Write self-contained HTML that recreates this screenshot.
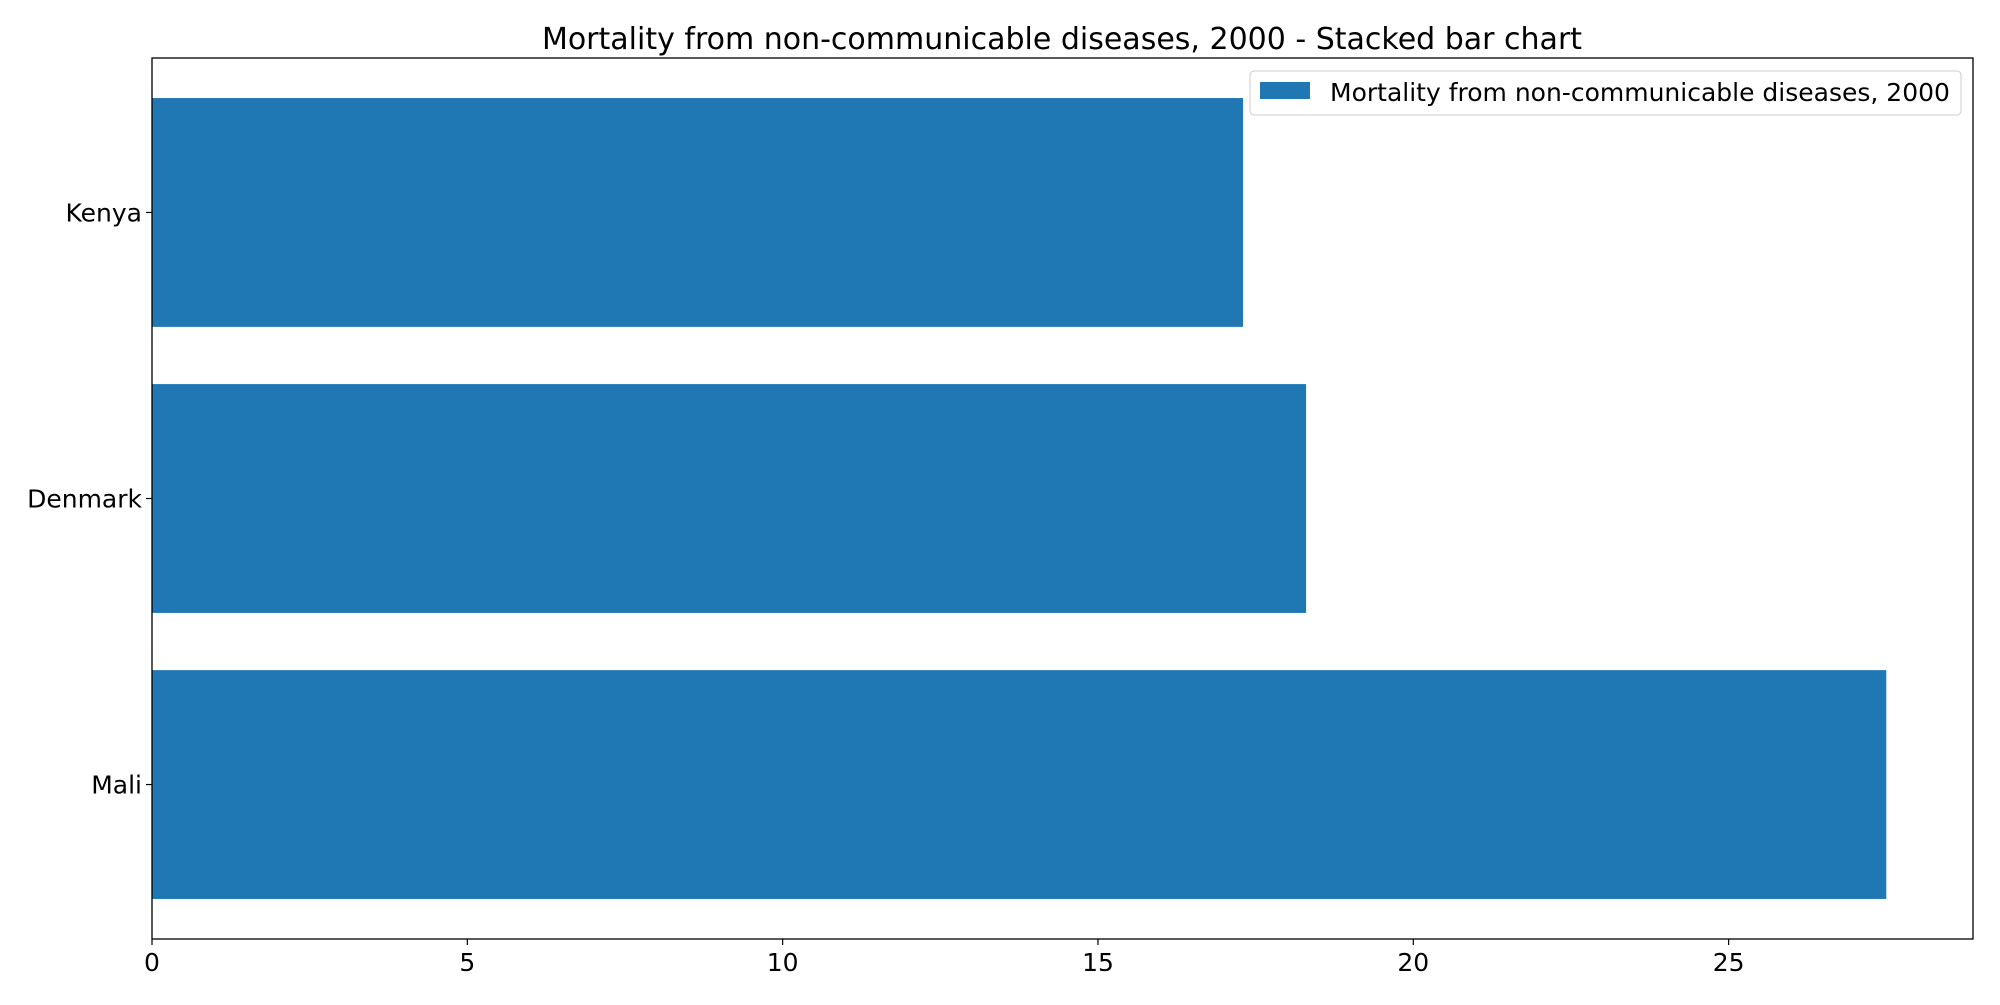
<!DOCTYPE html>
<html><head><meta charset="utf-8"><style>
body{margin:0;background:#fff}
svg text{font-family:"DejaVu Sans","Liberation Sans",sans-serif;fill:#000}
</style></head><body>
<svg id="chart" width="2000" height="1000" xmlns="http://www.w3.org/2000/svg">
<text x="1062" y="49" font-size="30" text-anchor="middle">Mortality from non-communicable diseases, 2000 - Stacked bar chart</text>
<g id="bars"></g><g id="xaxis"></g><g id="yaxis"></g>
<rect x="152" y="58" width="1821" height="881" fill="none" stroke="#000" stroke-width="1.3"/>
<g>
<rect x="1250" y="71" width="711" height="44" rx="4" fill="#fff" fill-opacity="0.8" stroke="#ccc"/>
<rect x="1260" y="82" width="50" height="17" fill="#1f77b4"/>
<text x="1330" y="101" font-size="25">Mortality from non-communicable diseases, 2000</text>
</g>
</svg>
<script>
const categories=["Mali","Denmark","Kenya"];
const values=[27.5,18.3,17.3];
const xTicks=[0,5,10,15,20,25];
const L=152,R=1973,T=58,B=939;
const xMax=28.875,yMin=-0.54,yMax=2.54;
const xs=v=>L+v/xMax*(R-L);
const ys=v=>B-(v-yMin)/(yMax-yMin)*(B-T);
const NS="http://www.w3.org/2000/svg";
const bars=document.getElementById('bars'),xa=document.getElementById('xaxis'),ya=document.getElementById('yaxis');
function mk(tag,attrs,parent){const e=document.createElementNS(NS,tag);for(const k in attrs)e.setAttribute(k,attrs[k]);parent.appendChild(e);return e;}
categories.forEach((c,i)=>{
 const r=mk('rect',{x:xs(0),y:ys(i+0.4),width:xs(values[i])-xs(0),height:ys(i-0.4)-ys(i+0.4),fill:'#1f77b4'},bars);
 
 
 const t=mk('line',{x1:L-6,x2:L,y1:ys(i),y2:ys(i),stroke:'#000','stroke-width':1.2},ya);
 
 
 const l=mk('text',{x:L-10,y:ys(i)+9,'font-size':25,'text-anchor':'end'},ya);
 l.textContent=c;
 
 
});
xTicks.forEach(v=>{
 const t=mk('line',{x1:xs(v),x2:xs(v),y1:B,y2:B+6,stroke:'#000','stroke-width':1.2},xa);
 
 
 const l=mk('text',{x:xs(v),y:B+32,'font-size':25,'text-anchor':'middle'},xa);
 l.textContent=v;
 
 
});
</script>
</body></html>
